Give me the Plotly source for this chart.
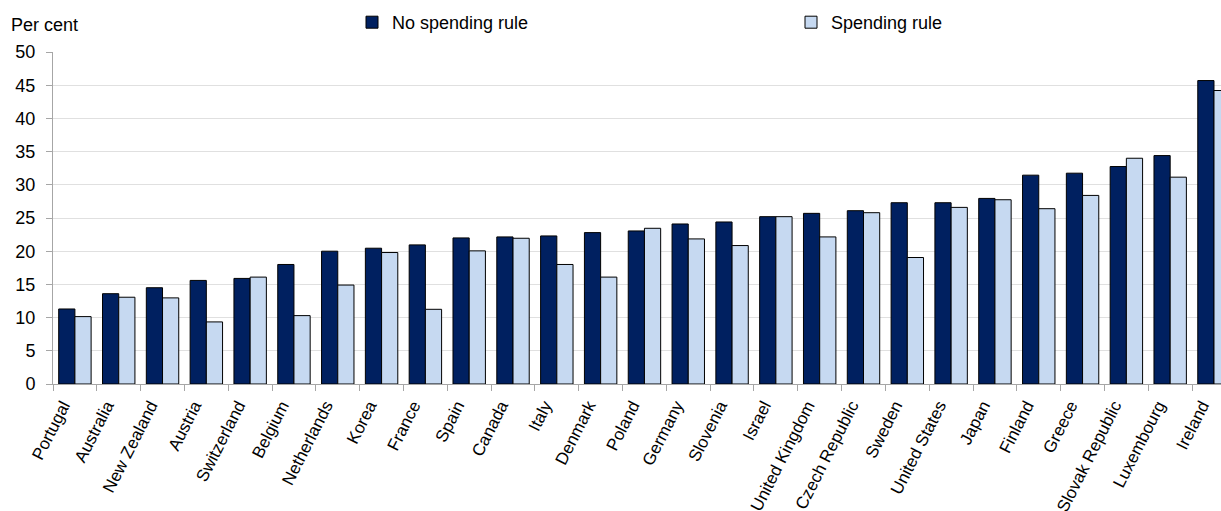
import plotly.graph_objects as go

countries = ["Portugal", "Australia", "New Zealand", "Austria", "Switzerland", "Belgium",
             "Netherlands", "Korea", "France", "Spain", "Canada", "Italy", "Denmark",
             "Poland", "Germany", "Slovenia", "Israel", "United Kingdom", "Czech Republic",
             "Sweden", "United States", "Japan", "Finland", "Greece", "Slovak Republic",
             "Luxembourg", "Ireland"]
no_rule = [11.3, 13.6, 14.5, 15.6, 15.9, 18.0, 20.0, 20.45, 20.95, 22.0, 22.15, 22.3, 22.8,
           23.05, 24.1, 24.4, 25.2, 25.7, 26.1, 27.3, 27.3, 27.95, 31.45, 31.75, 32.75,
           34.4, 45.7]
rule = [10.15, 13.07, 12.97, 9.35, 16.1, 10.3, 14.9, 19.8, 11.25, 20.05, 21.95, 18.0, 16.1,
        23.45, 21.85, 20.85, 25.2, 22.15, 25.8, 19.05, 26.6, 27.75, 26.4, 28.4, 34.0,
        31.15, 44.2]
y_ticks = [0, 5, 10, 15, 20, 25, 30, 35, 40, 45, 50]

W, H = 1221, 511
ML, MR, MT, MB = 53, 0, 52, 127
PW = W - ML - MR
PH = H - MT - MB
FONT = "Liberation Sans, Arial, sans-serif"

fig = go.Figure()
fig.add_trace(go.Bar(x=countries, y=no_rule, name="No spending rule", legend="legend",
                     marker=dict(color="#002060", line=dict(color="#000000", width=1))))
fig.add_trace(go.Bar(x=countries, y=rule, name="Spending rule", legend="legend2",
                     marker=dict(color="#C6D9F1", line=dict(color="#000000", width=1))))

leg_common = dict(orientation="h", xref="container", yref="container", xanchor="left",
                  yanchor="middle", y=1 - 22.5 / H, font=dict(size=18, family=FONT),
                  bgcolor="rgba(0,0,0,0)", itemwidth=30, borderwidth=0)

fig.update_layout(
    width=W, height=H,
    margin=dict(l=ML, r=MR, t=MT, b=MB, pad=0, autoexpand=False),
    paper_bgcolor="white", plot_bgcolor="white",
    font=dict(family=FONT, size=18, color="#000000"),
    barmode="group", bargap=0.26, bargroupgap=0,
    hovermode=False,
    showlegend=True,
    legend=dict(x=352 / W, **leg_common),
    legend2=dict(x=791 / W, **leg_common),
    xaxis=dict(range=[-0.5, 26.16], type="category", tickangle=-63, automargin=False,
               showline=True, linecolor="#a6a6a6", linewidth=1,
               ticks="outside", tickson="boundaries", ticklen=6, tickcolor="#a6a6a6",
               ticklabelshift=-12, ticklabelstandoff=4,
               showgrid=False, tickfont=dict(size=17, family=FONT)),
    yaxis=dict(range=[0, 50], tickvals=y_ticks, showline=True, linecolor="#a6a6a6",
               linewidth=1, ticks="outside", ticklen=6, tickcolor="#a6a6a6",
               automargin=False, ticklabelstandoff=7,
               showgrid=True, gridcolor="#e0e0e0", gridwidth=1, zeroline=False,
               tickfont=dict(size=18, family=FONT)),
    annotations=[dict(text="Per cent", xref="paper", yref="paper",
                      x=(9 - ML) / PW, y=1 + (MT - 25) / PH,
                      xanchor="left", yanchor="middle", showarrow=False,
                      font=dict(size=18, family=FONT))],
)

fig.write_html("out.html", config={"displayModeBar": False},
               post_script="document.body.style.margin='0';document.body.style.overflow='hidden';")
